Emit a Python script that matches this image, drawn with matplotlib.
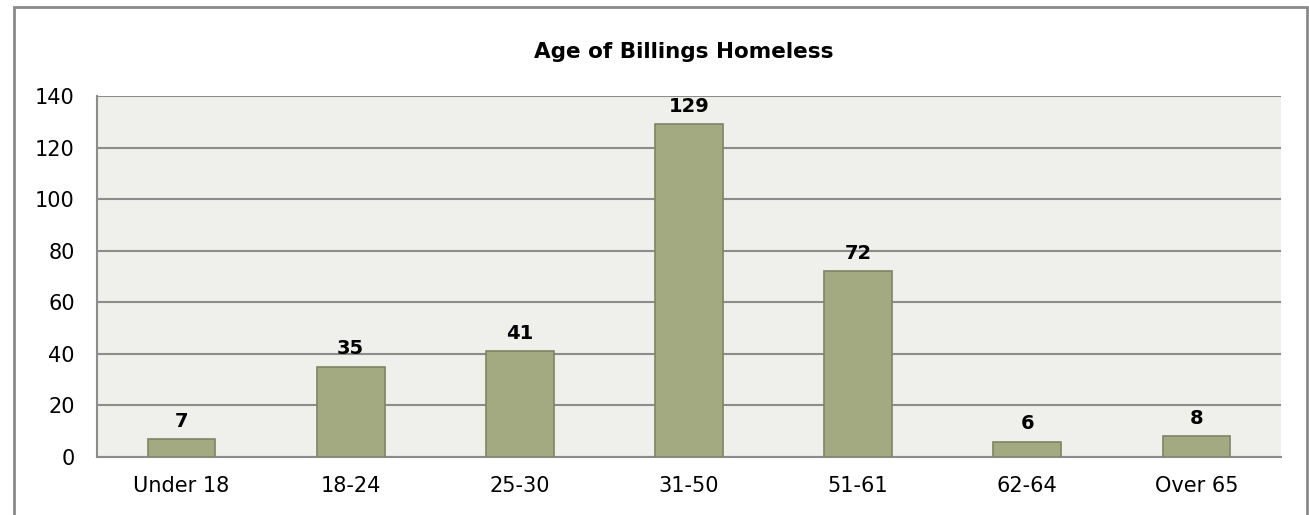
import matplotlib
matplotlib.use('Agg')
import matplotlib.pyplot as plt
from matplotlib.patches import Rectangle

# data
age_groups = ['Under 18', '18-24', '25-30', '31-50', '51-61', '62-64', 'Over 65']
counts = [7, 35, 41, 129, 72, 6, 8]
y_ticks = [0, 20, 40, 60, 80, 100, 120, 140]

plt.rcParams['font.family'] = ['DejaVu Sans']

W, H = 1309, 515
fig = plt.figure(figsize=(W / 100, H / 100), dpi=100)

# outer chart border (cropped at right and bottom in the reference)
fig.patches.append(Rectangle((14 / W, -0.05), (1307 - 14) / W, 1.05 - 7 / H,
                             transform=fig.transFigure, fill=False,
                             edgecolor='#8a8a8a', linewidth=2))

ax = fig.add_axes([97 / W, 1 - 457 / H, (1281 - 97) / W, (457 - 96) / H])
ax.set_facecolor('#efefeb')

x = range(len(age_groups))
bars = ax.bar(x, counts, width=0.4, color='#a3a980', edgecolor='#7f8562',
              linewidth=1.2, zorder=3)

for rect, v in zip(bars, counts):
    ax.annotate(str(v), xy=(rect.get_x() + rect.get_width() / 2, v),
                xytext=(0, 6), textcoords='offset points',
                ha='center', va='bottom', fontsize=14, fontweight='bold')

ax.set_xlim(-0.5, len(age_groups) - 0.5)
ax.set_ylim(0, 140)
ax.set_yticks(y_ticks)
ax.set_xticks(list(x))
ax.set_xticklabels(age_groups)
ax.tick_params(axis='both', length=0, labelsize=15)
ax.tick_params(axis='y', pad=16)
ax.tick_params(axis='x', pad=14)
ax.grid(axis='y', color='#8c8c8c', linewidth=1.5, zorder=1)

for side in ['top', 'right']:
    ax.spines[side].set_visible(False)
for side in ['left', 'bottom']:
    ax.spines[side].set_color('#8c8c8c')
    ax.spines[side].set_linewidth(1.5)

fig.text(684 / W, 1 - 52 / H, 'Age of Billings Homeless', ha='center',
         va='center', fontsize=15.5, fontweight='bold')

plt.savefig('out.png', dpi=100)
